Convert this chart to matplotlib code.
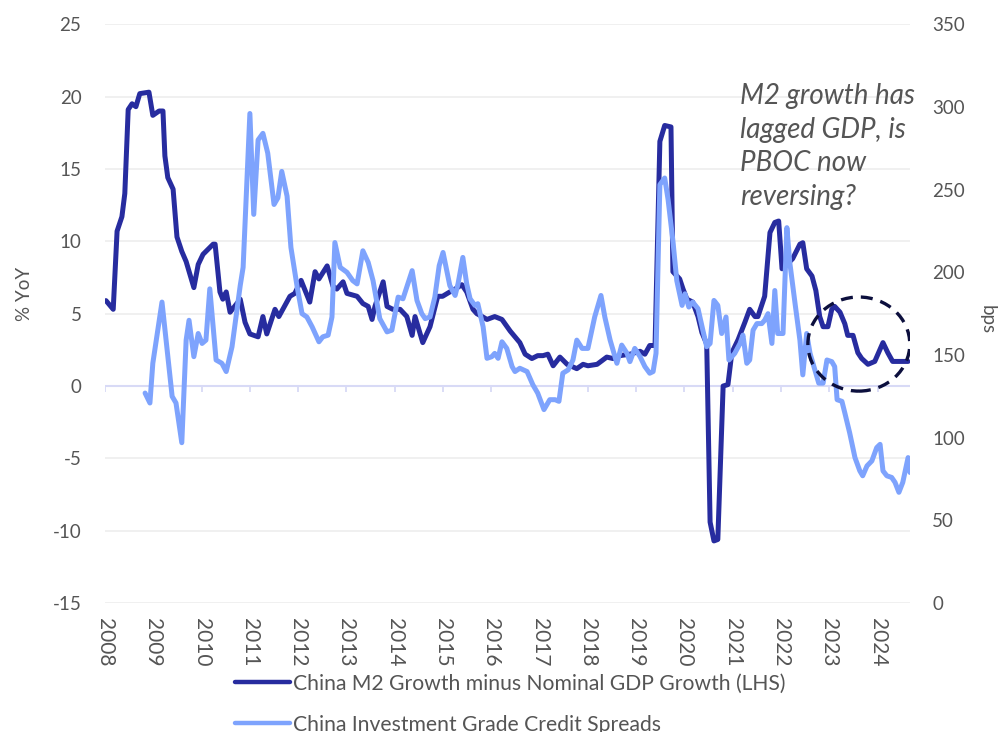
import matplotlib
matplotlib.use("Agg")
import matplotlib.pyplot as plt
from matplotlib.lines import Line2D
from matplotlib.patches import Ellipse

plt.rcParams["font.family"] = ["Lato", "DejaVu Sans"]
plt.rcParams["axes.unicode_minus"] = False

DARK = "#272c9f"
LIGHT = "#7ea3fd"
GREY = "#555555"
GRID = "#efefef"
LAV = "#d8daf6"

# China M2 growth minus nominal GDP growth, % YoY (left axis)
m2_t = [2008.02, 2008.17, 2008.25, 2008.35, 2008.41, 2008.48, 2008.56, 2008.64,
        2008.72, 2008.91, 2008.99, 2009.12, 2009.20, 2009.24, 2009.30, 2009.41,
        2009.49, 2009.59, 2009.68, 2009.84, 2009.93, 2010.03, 2010.24, 2010.28,
        2010.38, 2010.44, 2010.51, 2010.59, 2010.80, 2010.90, 2011.00, 2011.17,
        2011.27, 2011.35, 2011.52, 2011.60, 2011.83, 2011.93, 2012.06, 2012.24,
        2012.35, 2012.43, 2012.60, 2012.72, 2012.80, 2012.93, 2013.01, 2013.22,
        2013.34, 2013.45, 2013.53, 2013.59, 2013.76, 2013.84, 2013.96, 2014.11,
        2014.25, 2014.36, 2014.42, 2014.58, 2014.73, 2014.89, 2014.99, 2015.14,
        2015.25, 2015.39, 2015.49, 2015.62, 2015.70, 2015.81, 2015.91, 2016.07,
        2016.22, 2016.39, 2016.59, 2016.70, 2016.84, 2016.96, 2017.07, 2017.17,
        2017.28, 2017.42, 2017.57, 2017.77, 2017.90, 2018.00, 2018.19, 2018.39,
        2018.52, 2018.66, 2018.87, 2019.08, 2019.18, 2019.28, 2019.39, 2019.49,
        2019.59, 2019.72, 2019.76, 2019.90, 2019.97, 2020.05, 2020.17, 2020.28,
        2020.36, 2020.46, 2020.53, 2020.61, 2020.69, 2020.80, 2020.90, 2020.98,
        2021.11, 2021.25, 2021.35, 2021.46, 2021.52, 2021.66, 2021.77, 2021.87,
        2021.95, 2022.02, 2022.12, 2022.24, 2022.39, 2022.45, 2022.53, 2022.64,
        2022.72, 2022.80, 2022.87, 2022.97, 2023.05, 2023.11, 2023.22, 2023.32,
        2023.38, 2023.49, 2023.59, 2023.67, 2023.80, 2023.94, 2024.11, 2024.21,
        2024.31, 2024.46, 2024.63]
m2_v = [5.9, 5.3, 10.7, 11.7, 13.3, 19.1, 19.5, 19.3,
        20.2, 20.3, 18.7, 19.0, 19.0, 15.9, 14.4, 13.6,
        10.3, 9.3, 8.6, 6.8, 8.4, 9.1, 9.8, 9.8,
        6.5, 6.0, 6.5, 5.1, 6.0, 4.4, 3.6, 3.4,
        4.8, 3.6, 5.3, 4.8, 6.2, 6.4, 7.3, 5.8,
        7.9, 7.4, 8.3, 6.9, 6.7, 7.2, 6.4, 6.2,
        5.7, 5.5, 4.6, 5.5, 7.2, 5.5, 5.3, 5.3,
        4.8, 3.5, 4.8, 3.0, 4.1, 6.2, 6.2, 6.5,
        6.7, 7.0, 6.5, 5.3, 5.0, 4.8, 4.6, 4.8,
        4.6, 3.8, 3.0, 2.2, 1.9, 2.1, 2.1, 2.2,
        1.4, 2.0, 1.5, 1.2, 1.5, 1.4, 1.5, 2.0,
        1.9, 2.1, 2.2, 2.4, 2.2, 2.8, 2.8, 16.9,
        18.0, 17.9, 7.9, 7.4, 6.7, 6.0, 5.8, 4.8,
        3.7, 2.9, -9.4, -10.7, -10.6, 0.0, 0.1, 2.3,
        3.2, 4.4, 5.3, 4.8, 4.8, 6.2, 10.6, 11.3,
        11.4, 8.1, 8.4, 8.8, 9.8, 9.9, 8.1, 7.6,
        6.6, 4.8, 4.1, 4.1, 5.3, 5.5, 5.1, 4.3,
        3.5, 3.5, 2.3, 1.9, 1.5, 1.7, 3.0, 2.3,
        1.7, 1.7, 1.7]

# China investment grade credit spreads, bps (right axis)
ig_t = [2008.83, 2008.93, 2008.99, 2009.18, 2009.28, 2009.39, 2009.47, 2009.59,
        2009.68, 2009.74, 2009.84, 2009.93, 2010.01, 2010.09, 2010.17, 2010.30,
        2010.42, 2010.51, 2010.63, 2010.80, 2010.86, 2011.00, 2011.08, 2011.17,
        2011.27, 2011.37, 2011.50, 2011.58, 2011.66, 2011.77, 2011.85, 2011.98,
        2012.08, 2012.18, 2012.29, 2012.43, 2012.51, 2012.62, 2012.70, 2012.76,
        2012.87, 2013.01, 2013.13, 2013.22, 2013.34, 2013.45, 2013.55, 2013.69,
        2013.84, 2013.94, 2014.07, 2014.17, 2014.36, 2014.46, 2014.56, 2014.63,
        2014.73, 2014.83, 2014.92, 2015.00, 2015.14, 2015.25, 2015.31, 2015.41,
        2015.49, 2015.56, 2015.66, 2015.72, 2015.83, 2015.91, 2016.01, 2016.07,
        2016.14, 2016.22, 2016.32, 2016.43, 2016.49, 2016.59, 2016.74, 2016.86,
        2016.96, 2017.09, 2017.21, 2017.32, 2017.40, 2017.48, 2017.59, 2017.69,
        2017.77, 2017.88, 2018.00, 2018.14, 2018.27, 2018.35, 2018.46, 2018.60,
        2018.70, 2018.81, 2018.87, 2018.97, 2019.08, 2019.18, 2019.28, 2019.35,
        2019.41, 2019.49, 2019.59, 2019.66, 2019.76, 2019.84, 2019.95, 2020.01,
        2020.09, 2020.17, 2020.28, 2020.38, 2020.46, 2020.53, 2020.61, 2020.69,
        2020.77, 2020.86, 2020.92, 2021.04, 2021.15, 2021.21, 2021.29, 2021.35,
        2021.42, 2021.50, 2021.60, 2021.66, 2021.73, 2021.81, 2021.87, 2021.93,
        2022.04, 2022.12, 2022.18, 2022.29, 2022.39, 2022.45, 2022.53, 2022.60,
        2022.70, 2022.78, 2022.87, 2022.95, 2023.05, 2023.11, 2023.16, 2023.26,
        2023.32, 2023.42, 2023.53, 2023.63, 2023.69, 2023.78, 2023.88, 2023.98,
        2024.05, 2024.11, 2024.19, 2024.29, 2024.36, 2024.44, 2024.52, 2024.63,
        2024.67]
ig_v = [127, 121, 145, 182, 155, 125, 121, 97,
        159, 171, 149, 163, 157, 159, 190, 147,
        145, 140, 155, 192, 203, 296, 235, 280,
        284, 272, 241, 245, 261, 246, 215, 191,
        175, 173, 167, 158, 161, 162, 173, 218,
        203, 200, 195, 193, 213, 206, 195, 172,
        164, 165, 185, 184, 201, 183, 175, 172,
        173, 185, 204, 212, 192, 186, 193, 209,
        193, 184, 180, 181, 167, 148, 149, 151,
        148, 158, 154, 143, 140, 142, 140, 132,
        127, 117, 123, 123, 122, 139, 141, 147,
        159, 154, 154, 173, 186, 173, 159, 145,
        156, 151, 146, 154, 149, 143, 139, 140,
        151, 253, 257, 244, 219, 195, 180, 187,
        179, 182, 178, 165, 155, 157, 183, 180,
        163, 173, 147, 151, 157, 162, 145, 147,
        165, 169, 169, 171, 175, 157, 189, 163,
        163, 227, 206, 181, 159, 138, 163, 151,
        141, 133, 133, 147, 146, 143, 123, 122,
        115, 103, 88, 80, 77, 83, 86, 94,
        96, 80, 77, 76, 73, 67, 73, 88,
        79]

years = list(range(2008, 2025))
tick_mark_years = [y for y in years if y not in (2009, 2017)]
left_ticks = list(range(-15, 30, 5))
right_ticks = list(range(0, 400, 50))

fig = plt.figure(figsize=(10.02, 7.32), dpi=100)
ax = fig.add_axes([0.1048, 0.176, 0.8034, 0.791])
ax2 = ax.twinx()

for yv in left_ticks:
    if yv != 0:
        ax.axhline(yv, color=GRID, lw=1.3, zorder=0)
ax.axhline(0, color=LAV, lw=1.5, zorder=1)
ax.vlines(tick_mark_years, -0.42, 0, color=LAV, lw=1.3, zorder=1)

ax.plot(m2_t, m2_v, color=DARK, lw=3.6, solid_joinstyle="round",
        solid_capstyle="round", zorder=3)
ax2.plot(ig_t, ig_v, color=LIGHT, lw=3.6, solid_joinstyle="round",
         solid_capstyle="round", zorder=3)

ax.set_xlim(2008, 2024.67)
ax.set_ylim(-15, 25)
ax2.set_ylim(0, 350)
ax.set_yticks(left_ticks)
ax2.set_yticks(right_ticks)
ax.set_xticks(years)
ax.set_xticklabels([str(y) for y in years], rotation=270)

for a in (ax, ax2):
    for s in a.spines.values():
        s.set_visible(False)
ax.tick_params(axis="y", length=0, pad=17, labelsize=13.5, labelcolor=GREY)
ax2.tick_params(axis="y", length=0, pad=16, labelsize=13.5, labelcolor=GREY)
ax.tick_params(axis="x", length=0, pad=11, labelsize=15, labelcolor=GREY)

ax.set_ylabel("% YoY", fontsize=13.5, color=GREY)
ax.yaxis.set_label_coords(-0.089, 0.535)
ax2.set_ylabel("bps", fontsize=13.5, color=GREY, rotation=270, va="bottom")
ax2.yaxis.set_label_coords(1.085, 0.49)

ax2.add_patch(Ellipse((2023.61, 2.9), 2.11, 6.5, transform=ax.transData,
                      fill=False, ec="#0c0f3d", lw=2.4, ls=(0, (3.6, 2.4)),
                      zorder=5))

fig.text(740 / 1002, 1 - 83 / 732,
         "M2 growth has\nlagged GDP, is\nPBOC now\nreversing?",
         fontsize=20, style="italic", color=GREY, ha="left", va="top",
         linespacing=1.36)

handles = [Line2D([], [], color=DARK, lw=3.2, solid_capstyle="round"),
           Line2D([], [], color=LIGHT, lw=3.2, solid_capstyle="round")]
labels = ["China M2 Growth minus Nominal GDP Growth (LHS)",
          "China Investment Grade Credit Spreads"]
leg = fig.legend(handles, labels, loc="center left",
                 bbox_to_anchor=(235 / 1002, 1 - 704 / 732),
                 frameon=False, fontsize=15.2, handlelength=2.6,
                 handletextpad=0.15, labelspacing=1.0, borderpad=0,
                 borderaxespad=0)
for t in leg.get_texts():
    t.set_color(GREY)

fig.savefig("out.png", dpi=100)
